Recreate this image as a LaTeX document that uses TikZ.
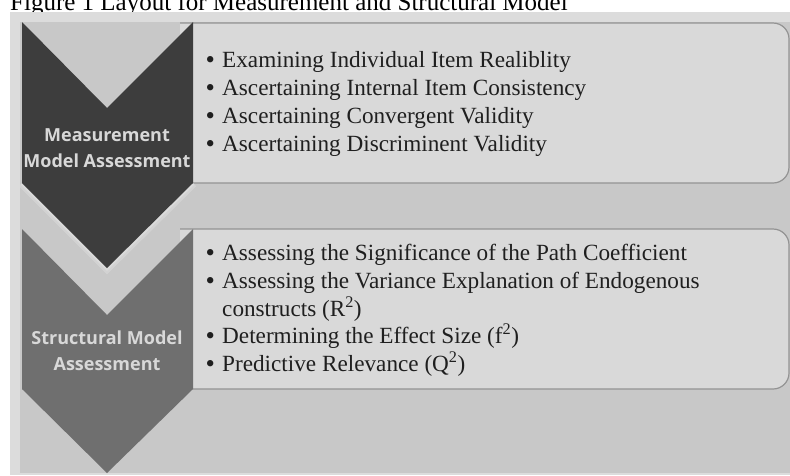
\documentclass[tikz,border=0pt]{standalone}
\usepackage{fontspec}
\setmainfont{Liberation Serif}
\newfontfamily\stagefont{Open Sans}
\usetikzlibrary{positioning}

\definecolor{panelouter}{HTML}{DCDCDC}
\definecolor{panelinner}{HTML}{C8C8C8}
\definecolor{chevdark}{HTML}{3D3D3D}
\definecolor{chevgray}{HTML}{6F6F6F}
\definecolor{boxfill}{HTML}{D9D9D9}
\definecolor{boxline}{HTML}{939393}
\definecolor{stagetext}{HTML}{D8D8D8}

\newcommand{\itembullet}{\makebox[17pt][l]{\hspace{0.5pt}\raisebox{-1pt}{\scalebox{1.15}{\textbullet}}}}

\begin{document}
\begin{tikzpicture}[
    x=1pt, y=-1pt,
    item box/.style={fill=boxfill, draw=boxline, line width=1.2pt, rounded corners=16pt},
    chevron one/.style={fill=chevdark},
    chevron two/.style={fill=chevgray},
    glow/.style={draw=#1, line join=miter, opacity=0.55},
    stage label/.style={font=\stagefont\bfseries\fontsize{18}{26}\selectfont,
        text=stagetext, align=center, inner sep=0pt},
    item/.style={font=\fontsize{23.2}{28}\selectfont, text=black!88,
        anchor=base west, inner sep=0pt}
]
\useasboundingbox (0,0) rectangle (790,475);

% Title, cut at the top of the page
\node[anchor=base west, inner sep=0pt, font=\fontsize{25}{28}\selectfont] (title) at (10,10)
    {Figure 1 Layout for Measurement and Structural Model};

% Panel behind everything
\fill[panelouter] (10,12) rectangle (790,475);
\fill[panelinner] (20,22) rectangle (790,473);

% Item boxes (open on the left, under the chevrons)
\draw[item box] (180,23) -- (789,23) -- (789,183) -- (180,183);
\draw[item box] (180,229) -- (789,229) -- (789,389) -- (180,389);

% Chevron 2 (structural)
\path[chevron two] (22,229) -- (107,315) -- (193,229) -- (193,389) -- (107,473) -- (22,389) -- cycle;

% Chevron 1 (measurement) with a soft light rim
\draw[glow=panelouter, line width=9pt] (193,183) -- (107,268) -- (22,183);
\draw[glow=panelouter!80!white, line width=4pt] (193,183) -- (107,268) -- (22,183);
\path[chevron one] (22,22) -- (107,108) -- (193,22) -- (193,183) -- (107,268) -- (22,183) -- cycle;

% Stage labels
\node[stage label] (measure) at (107,148) {Measurement\\Model Assessment};
\node[stage label] (struct) at (107,351) {Structural Model\\Assessment};

% Measurement items
\node[item] (m1) at (205,67.5) {\itembullet Examining Individual Item Realiblity};
\node[item] (m2) at (205,95.5) {\itembullet Ascertaining Internal Item Consistency};
\node[item] (m3) at (205,123.5) {\itembullet Ascertaining Convergent Validity};
\node[item] (m4) at (205,151.5) {\itembullet Ascertaining Discriminent Validity};

% Structural items
\node[item] (s1) at (205,260.5) {\itembullet Assessing the Significance of the Path Coefficient};
\node[item] (s2) at (205,288.3) {\itembullet Assessing the Variance Explanation of Endogenous};
\node[item] (s2b) at (222,316.1) {constructs (R\textsuperscript{2})};
\node[item] (s3) at (205,343.9) {\itembullet Determining the Effect Size (f\textsuperscript{2})};
\node[item] (s4) at (205,371.7) {\itembullet Predictive Relevance (Q\textsuperscript{2})};

\end{tikzpicture}
\end{document}
